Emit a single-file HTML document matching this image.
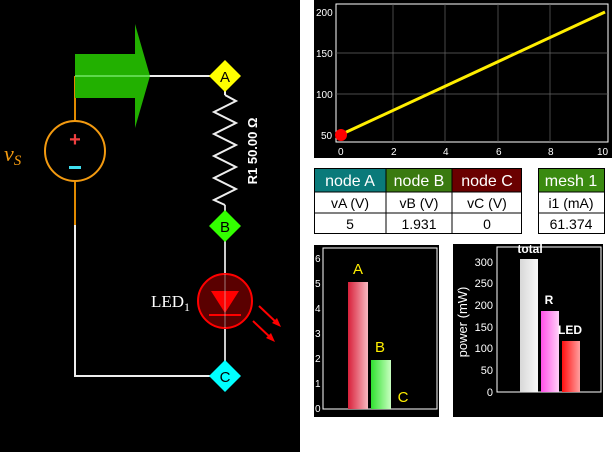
<!DOCTYPE html>
<html><head><meta charset="utf-8"><style>
html,body{margin:0;padding:0;background:#fff;}
svg{display:block;font-family:"Liberation Sans",sans-serif;}
</style></head><body>
<svg width="614" height="452" viewBox="0 0 614 452" xmlns="http://www.w3.org/2000/svg">
<defs>
<linearGradient id="gA" x1="0" x2="1"><stop offset="0" stop-color="#d8203a"/><stop offset="1" stop-color="#f8b8c0"/></linearGradient>
<linearGradient id="gB" x1="0" x2="1"><stop offset="0" stop-color="#30e030"/><stop offset="1" stop-color="#c8ffc0"/></linearGradient>
<linearGradient id="gT" x1="0" x2="1"><stop offset="0" stop-color="#d8d8d8"/><stop offset="1" stop-color="#f8f8f8"/></linearGradient>
<linearGradient id="gR" x1="0" x2="1"><stop offset="0" stop-color="#ff50e8"/><stop offset="1" stop-color="#ffd0f8"/></linearGradient>
<linearGradient id="gL" x1="0" x2="1"><stop offset="0" stop-color="#ff1010"/><stop offset="1" stop-color="#ffa0a0"/></linearGradient>
</defs>
<rect x="0" y="0" width="300" height="452" fill="#000"/>
<!-- wires -->
<polyline points="75,76 225,76" stroke="#eee" stroke-width="2" fill="none"/>
<polyline points="75,225 75,376 225,376 225,226" stroke="#eee" stroke-width="2" fill="none"/>
<line x1="225" y1="76" x2="225" y2="95" stroke="#eee" stroke-width="2"/>
<line x1="225" y1="205" x2="225" y2="380" stroke="#ccc" stroke-width="2"/>
<line x1="75" y1="76" x2="75" y2="121" stroke="#e08a00" stroke-width="2"/>
<line x1="75" y1="181" x2="75" y2="225" stroke="#e08a00" stroke-width="2"/>
<!-- green arrow -->
<polygon points="75,54 135,54 135,24 150,76 135,128 135,98 75,98" fill="#22b000"/>
<line x1="75" y1="76" x2="150" y2="76" stroke="#9f9" stroke-width="1"/>
<!-- source -->
<circle cx="75" cy="151" r="30" fill="#000" stroke="#f39a10" stroke-width="2"/>
<text x="75" y="146" fill="#f04040" font-size="20" font-weight="bold" text-anchor="middle">+</text>
<rect x="69" y="166" width="12" height="3" fill="#40e0f0"/>
<text x="4" y="161" fill="#f39a10" font-size="22" font-style="italic" font-family="Liberation Serif,serif">v<tspan font-size="15" dy="4">S</tspan></text>
<!-- resistor -->
<polyline points="225,95 236,101 214,112 236,123 214,134 236,145 214,156 236,167 214,178 236,189 214,200 225,205" stroke="#eee" stroke-width="2" fill="none"/>
<text transform="translate(257,151) rotate(-90)" fill="#fff" font-size="13" font-weight="bold" text-anchor="middle">R1  50.00  Ω</text>
<!-- LED -->
<circle cx="225" cy="301" r="27" fill="#5a0000" stroke="#f00" stroke-width="2"/>
<polygon points="211,291 239,291 225,313" fill="#f00"/>
<line x1="209" y1="315" x2="241" y2="315" stroke="#f00" stroke-width="2"/>
<line x1="225" y1="274" x2="225" y2="328" stroke="#ccc" stroke-width="1" opacity="0.6"/>
<line x1="259" y1="306" x2="278" y2="324" stroke="#f00" stroke-width="2"/>
<polygon points="281,327 272,323 277,318" fill="#f00"/>
<line x1="253" y1="321" x2="272" y2="339" stroke="#f00" stroke-width="2"/>
<polygon points="275,342 266,338 271,333" fill="#f00"/>
<text x="151" y="307" fill="#fff" font-size="17" font-family="Liberation Serif,serif">LED<tspan font-size="12" dy="4">1</tspan></text>
<!-- nodes -->
<polygon points="225,60 241,76 225,92 209,76" fill="#ffff00"/>
<text x="225" y="82" font-size="15" text-anchor="middle" fill="#000">A</text>
<polygon points="225,210 241,226 225,242 209,226" fill="#33ff00"/>
<text x="225" y="232" font-size="15" text-anchor="middle" fill="#000">B</text>
<polygon points="225,360 241,376 225,392 209,376" fill="#00ffff"/>
<text x="225" y="382" font-size="15" text-anchor="middle" fill="#000">C</text>

<!-- line plot -->
<rect x="314" y="0" width="298" height="158" fill="#000"/>
<rect x="336" y="4" width="272" height="138" fill="none" stroke="#fff" stroke-width="1"/>
<g stroke="#666" stroke-width="0.7">
<line x1="393" y1="4" x2="393" y2="142"/><line x1="445" y1="4" x2="445" y2="142"/><line x1="498" y1="4" x2="498" y2="142"/><line x1="550" y1="4" x2="550" y2="142"/>
<line x1="336" y1="53" x2="608" y2="53"/><line x1="336" y1="94" x2="608" y2="94"/>
</g>
<g fill="#fff" font-size="10">
<text x="316" y="16">200</text><text x="316" y="57">150</text><text x="316" y="98">100</text><text x="321" y="139">50</text>
<text x="338" y="155">0</text><text x="391" y="155">2</text><text x="443" y="155">4</text><text x="496" y="155">6</text><text x="548" y="155">8</text><text x="597" y="155">10</text>
</g>
<line x1="340" y1="135" x2="605" y2="12" stroke="#ffee00" stroke-width="3"/>
<circle cx="341" cy="135" r="6" fill="#f00"/>

<!-- tables -->
<g font-size="14" text-anchor="middle">
<rect x="314" y="168" width="72" height="24" fill="#0a7a7a"/>
<rect x="386" y="168" width="66" height="24" fill="#3a7a10"/>
<rect x="452" y="168" width="70" height="24" fill="#6a0000"/>
<rect x="538" y="168" width="67" height="24" fill="#3a8a10"/>
<text x="350" y="186" fill="#fff" font-size="16">node A</text>
<text x="419" y="186" fill="#fff" font-size="16">node B</text>
<text x="487" y="186" fill="#fff" font-size="16">node C</text>
<text x="571" y="186" fill="#fff" font-size="16">mesh 1</text>
<g fill="none" stroke="#000" stroke-width="1">
<rect x="314.5" y="168.5" width="207" height="65"/>
<line x1="386" y1="168" x2="386" y2="234"/><line x1="452" y1="168" x2="452" y2="234"/>
<line x1="314" y1="192" x2="522" y2="192"/><line x1="314" y1="213" x2="522" y2="213"/>
<rect x="538.5" y="168.5" width="66" height="65"/>
<line x1="538" y1="192" x2="605" y2="192"/><line x1="538" y1="213" x2="605" y2="213"/>
</g>
<text x="350" y="208">vA (V)</text><text x="419" y="208">vB (V)</text><text x="487" y="208">vC (V)</text><text x="571" y="208">i1 (mA)</text>
<text x="350" y="229">5</text><text x="419" y="229">1.931</text><text x="487" y="229">0</text><text x="571" y="229">61.374</text>
</g>

<!-- bar chart 1 -->
<rect x="314" y="245" width="125" height="172" fill="#000"/>
<rect x="323" y="248" width="114" height="161" fill="none" stroke="#fff" stroke-width="1"/>
<g fill="#fff" font-size="10">
<text x="315" y="412">0</text><text x="315" y="387">1</text><text x="315" y="362">2</text><text x="315" y="337">3</text><text x="315" y="312">4</text><text x="315" y="287">5</text><text x="315" y="262">6</text>
</g>
<rect x="348" y="282" width="20" height="127" fill="url(#gA)"/>
<rect x="371" y="360" width="20" height="49" fill="url(#gB)"/>
<g fill="#ffee00" font-size="15" text-anchor="middle">
<text x="358" y="274">A</text><text x="380" y="352">B</text><text x="403" y="402">C</text>
</g>

<!-- bar chart 2 -->
<rect x="453" y="244" width="150" height="173" fill="#000"/>
<rect x="497" y="247" width="104" height="145" fill="none" stroke="#fff" stroke-width="1"/>
<g fill="#fff" font-size="11" text-anchor="end">
<text x="493" y="396">0</text><text x="493" y="374">50</text><text x="493" y="352">100</text><text x="493" y="331">150</text><text x="493" y="309">200</text><text x="493" y="287">250</text><text x="493" y="266">300</text>
</g>
<text transform="translate(467,322) rotate(-90)" fill="#fff" font-size="13" text-anchor="middle">power (mW)</text>
<rect x="520" y="259" width="18" height="133" fill="url(#gT)"/>
<rect x="541" y="311" width="18" height="81" fill="url(#gR)"/>
<rect x="562" y="341" width="18" height="51" fill="url(#gL)"/>
<g fill="#fff" font-size="12" font-weight="bold" text-anchor="middle">
<text x="530" y="253">total</text><text x="549" y="304">R</text><text x="570" y="334">LED</text>
</g>
</svg>
</body></html>
